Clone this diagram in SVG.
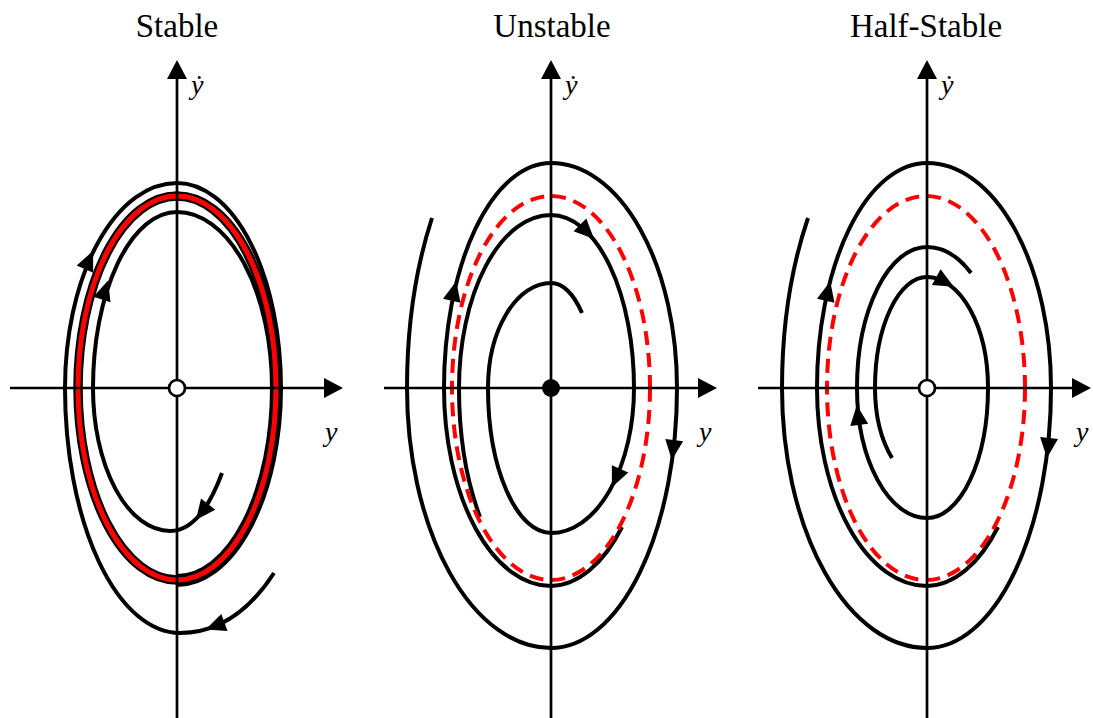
<svg xmlns="http://www.w3.org/2000/svg" xmlns:xlink="http://www.w3.org/1999/xlink" width="1093" height="718" viewBox="0 0 1093 718">
<style>
.title{font-family:"Liberation Serif","DejaVu Serif",serif;font-size:33px;fill:#000;text-anchor:middle}
.lab{font-family:"Liberation Serif","DejaVu Serif",serif;font-style:italic;font-size:28px;fill:#000}
.axis{stroke:#000;stroke-width:2.7;fill:none}
.traj{stroke:#000;stroke-width:4;fill:none;stroke-linecap:butt}
.lcb{stroke:#000;stroke-width:9.5;fill:none}
.lcr{stroke:#ff0000;stroke-width:5;fill:none}
.lcd{stroke:#ff0000;stroke-width:4;fill:none;stroke-dasharray:14 8}
.ah{fill:#000}
.o-open{fill:#fff;stroke:#000;stroke-width:2.7}
.o-fill{fill:#000}
</style>
<defs>
<path id="ah" d="M10,0 L-10,-9 L-10,9 Z"/>
<path id="axh" d="M0,0 L-19,-10 L-19,10 Z"/>
</defs>
<rect width="1093" height="718" fill="#fff"/>

<g id="panel-stable">
<text class="title" x="177" y="37">Stable</text>
<g id="stable-trajectories">
<path class="traj" d="M274,573 C250,610 220,633 180,633 A115,245 0 0 1 65,388 A112,205 0 0 1 177,183 A104,205 0 0 1 281,388 A104,197 0 0 1 177,585"/>
<path class="traj" d="M222,473 C212,500 195,531 170,531 A77,143 0 0 1 93,388 A84,176 0 0 1 177,212 A95,176 0 0 1 272,388 A95,188 0 0 1 177,576"/>
<ellipse class="lcb" cx="177" cy="388" rx="99" ry="192"/>
<ellipse class="lcr" cx="177" cy="388" rx="99" ry="192"/>
<use href="#ah" class="ah" transform="translate(215,626) rotate(160)"/>
<use href="#ah" class="ah" transform="translate(89,260) rotate(-66)"/>
<use href="#ah" class="ah" transform="translate(202,512) rotate(128)"/>
<use href="#ah" class="ah" transform="translate(105,290) rotate(-72)"/>
</g>
<g id="stable-axes">
<line class="axis" x1="10" y1="388" x2="328" y2="388"/>
<use href="#axh" class="ah" transform="translate(343,388)"/>
<line class="axis" x1="177" y1="718" x2="177" y2="75"/>
<use href="#axh" class="ah" transform="translate(177,60) rotate(-90)"/>
<text class="lab" x="191" y="94">ẏ</text>
<text class="lab" x="325" y="441">y</text>
</g>
<circle class="o-open" cx="177" cy="388" r="8"/>
</g>

<g id="panel-unstable">
<text class="title" x="552" y="37">Unstable</text>
<g id="unstable-trajectories">
<path class="traj" d="M622,527 A101,198 0 0 1 551,586 A107,198 0 0 1 444,388 A107,225 0 0 1 551,163 A126,225 0 0 1 677,388 A126,260 0 0 1 551,648 A144,260 0 0 1 407,388 A144,302 0 0 1 432,218"/>
<path class="traj" d="M480,517 A92,203 0 0 1 459,388 A92,173 0 0 1 551,215 A83,173 0 0 1 634,388 A83,145 0 0 1 551,533 A63,145 0 0 1 488,388 A63,105 0 0 1 551,283 A44,105 0 0 1 582,313"/>
<ellipse class="lcd" cx="551" cy="388" rx="99" ry="192"/>
<use href="#ah" class="ah" transform="translate(454,291) rotate(-77)"/>
<use href="#ah" class="ah" transform="translate(673,450) rotate(97)"/>
<use href="#ah" class="ah" transform="translate(587,232) rotate(45)"/>
<use href="#ah" class="ah" transform="translate(616,478) rotate(114)"/>
</g>
<g id="unstable-axes">
<line class="axis" x1="384" y1="388" x2="702" y2="388"/>
<use href="#axh" class="ah" transform="translate(717,388)"/>
<line class="axis" x1="551" y1="718" x2="551" y2="75"/>
<use href="#axh" class="ah" transform="translate(551,60) rotate(-90)"/>
<text class="lab" x="565" y="94">ẏ</text>
<text class="lab" x="699" y="441">y</text>
</g>
<circle class="o-fill" cx="551" cy="388" r="9"/>
</g>

<g id="panel-halfstable">
<text class="title" x="926" y="37">Half-Stable</text>
<g id="halfstable-trajectories">
<path class="traj" d="M998,527 A101,198 0 0 1 927,586 A110,198 0 0 1 817,388 A110,225 0 0 1 927,163 A124,225 0 0 1 1051,388 A124,260 0 0 1 927,648 A145,260 0 0 1 782,388 A145,298 0 0 1 808,218"/>
<path class="traj" d="M892,458 A52,95 0 0 1 875,388 A52,111 0 0 1 927,277 A61,111 0 0 1 988,388 A61,130 0 0 1 927,518 A70,130 0 0 1 857,388 A70,141 0 0 1 927,247 A76,141 0 0 1 971,273"/>
<ellipse class="lcd" cx="926" cy="388" rx="99" ry="192"/>
<use href="#ah" class="ah" transform="translate(828,291) rotate(-77)"/>
<use href="#ah" class="ah" transform="translate(1048,448) rotate(96)"/>
<use href="#ah" class="ah" transform="translate(945,282) rotate(29)"/>
<use href="#ah" class="ah" transform="translate(858,415) rotate(-97)"/>
</g>
<g id="halfstable-axes">
<line class="axis" x1="758" y1="388" x2="1076" y2="388"/>
<use href="#axh" class="ah" transform="translate(1091,388)"/>
<line class="axis" x1="927" y1="718" x2="927" y2="75"/>
<use href="#axh" class="ah" transform="translate(927,60) rotate(-90)"/>
<text class="lab" x="941" y="94">ẏ</text>
<text class="lab" x="1076" y="441">y</text>
</g>
<circle class="o-open" cx="927" cy="388" r="8"/>
</g>
</svg>
